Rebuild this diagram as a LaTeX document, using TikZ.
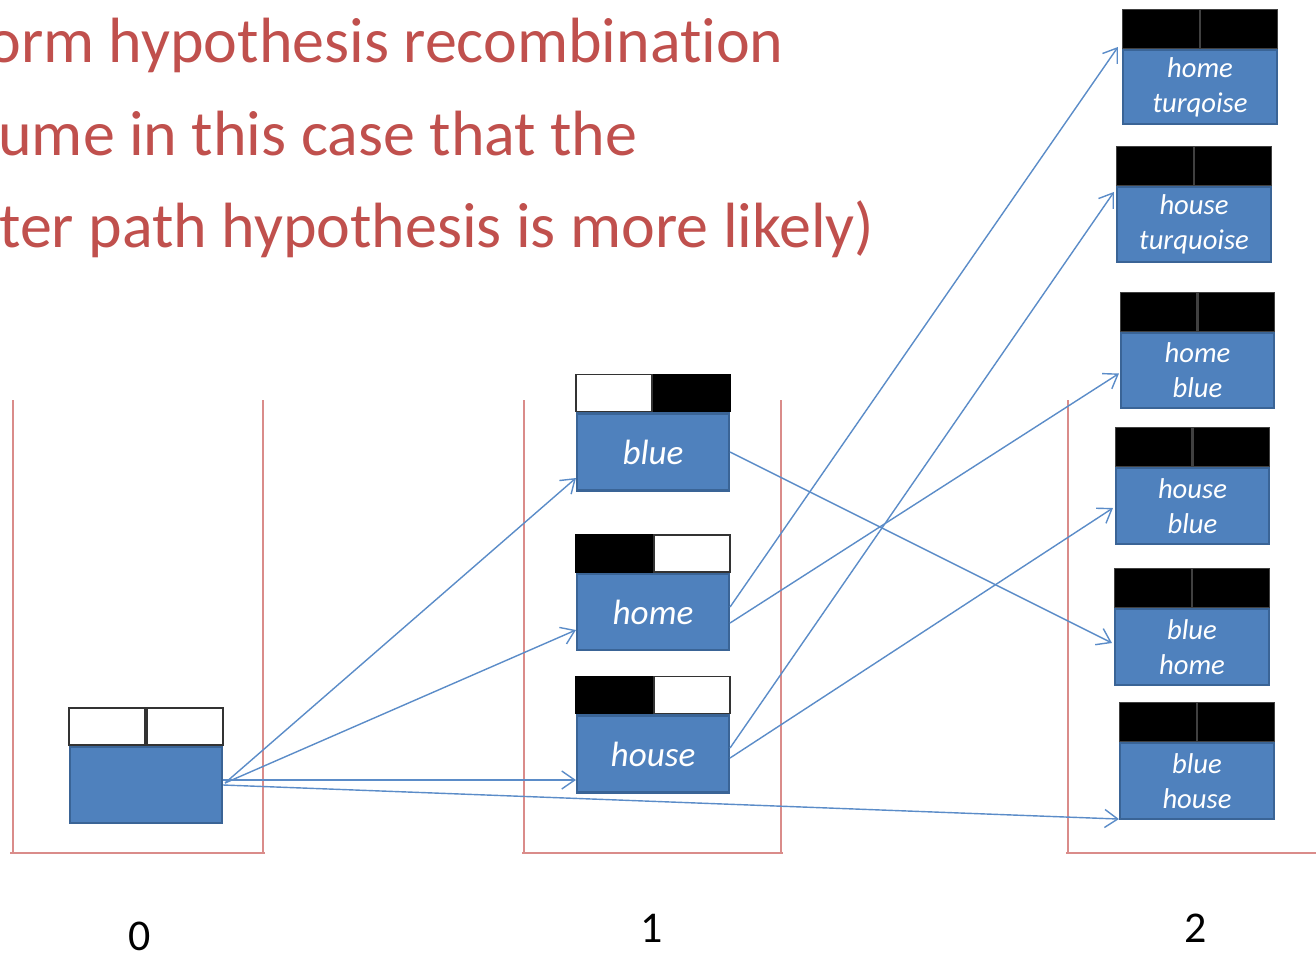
\documentclass[tikz,border=0pt]{standalone}
\usepackage{fontspec}
\setmainfont{Carlito}[Ligatures=NoCommon]
\usetikzlibrary{arrows.meta,calc}
\definecolor{boxblue}{HTML}{4F81BD}
\definecolor{boxedge}{HTML}{3A6496}
\definecolor{titlered}{HTML}{C0504D}
\definecolor{stackred}{HTML}{DA8C8A}
\definecolor{arrowblue}{HTML}{5B8CC8}
\tikzset{
  hyp/.style={draw=boxedge, fill=boxblue, line width=1.2pt, inner sep=0pt, text=white,
    font=\itshape\fontsize{20}{24}\selectfont},
  hyptwo/.style={hyp, align=center, minimum width=3.08cm, minimum height=1.5cm,
    font=\itshape\fontsize{16.3}{20}\selectfont},
  cellw/.style={draw=black!80, fill=white, line width=1pt, inner sep=0pt, minimum height=0.74cm, minimum width=1.52cm},
  cellb/.style={cellw, fill=black, draw=black},
  cellk/.style={draw=black!75, fill=black, line width=0.6pt, inner sep=0pt, minimum height=0.78cm, minimum width=1.54cm},
  titletext/.style={text=titlered, anchor=base west, inner sep=0pt, font=\fontsize{36.4}{43}\selectfont},
  stackline/.style={draw=stackred, line width=1.3pt},
  conn/.style={draw=arrowblue, line width=0.8pt, -{Straight Barb[length=2.6mm,width=3.6mm]}},
  steplabel/.style={inner sep=0pt, font=\fontsize{25}{30}\selectfont}
}
\begin{document}
\begin{tikzpicture}[x=0.02cm,y=-0.02cm]
\useasboundingbox (0,0) rectangle (1316,957);

% title
\node[titletext] (t1) at (-13,62) {orm hypothesis recombination};
\node[titletext] (t2) at (-2,155) {ume in this case that the};
\node[titletext] (t3) at (-1,247) {ter path hypothesis is more likely)};

% stacks
\draw[stackline] (13,400) -- (13,853);
\draw[stackline] (263,400) -- (263,853);
\draw[stackline] (10,853) -- (265,853);
\draw[stackline] (524,400) -- (524,853);
\draw[stackline] (781,400) -- (781,853);
\draw[stackline] (522,853) -- (783,853);
\draw[stackline] (1068,400) -- (1068,853);
\draw[stackline] (1066,853) -- (1316,853);

% stack 0
\node[hyp, minimum width=3.04cm, minimum height=1.52cm] (s0) at (146,785) {};
\node[cellw, anchor=south east] (s0l) at (s0.north) {};
\node[cellw, anchor=south west] (s0r) at (s0.north) {};

% stack 1
\node[hyp, minimum width=3.04cm, minimum height=1.54cm] (b1) at (653,452) {blue};
\node[cellw, anchor=south east] (b1l) at (b1.north) {};
\node[cellb, anchor=south west] (b1r) at (b1.north) {};

\node[hyp, minimum width=3.04cm, minimum height=1.52cm] (hm) at (653,612) {home};
\node[cellb, anchor=south east] (hml) at (hm.north) {};
\node[cellw, anchor=south west] (hmr) at (hm.north) {};

\node[hyp, minimum width=3.04cm, minimum height=1.54cm] (hs) at (653,754) {house};
\node[cellb, anchor=south east] (hsl) at (hs.north) {};
\node[cellw, anchor=south west] (hsr) at (hs.north) {};

% stack 2
\node[hyptwo, minimum height=1.48cm] (ht) at (1200,87) {home\\turqoise};
\node[cellk, anchor=south east] (htl) at (ht.north) {};
\node[cellk, anchor=south west] (htr) at (ht.north) {};

\node[hyptwo] (hq) at (1194,224.5) {house\\turquoise};
\node[cellk, anchor=south east] (hql) at (hq.north) {};
\node[cellk, anchor=south west] (hqr) at (hq.north) {};

\node[hyptwo, minimum width=3.06cm] (hb) at (1197.5,370.5) {home\\blue};
\node[cellk, minimum width=1.53cm, anchor=south east] (hbl) at (hb.north) {};
\node[cellk, minimum width=1.53cm, anchor=south west] (hbr) at (hb.north) {};

\node[hyptwo, minimum width=3.06cm, minimum height=1.52cm] (sb) at (1192.5,506) {house\\blue};
\node[cellk, minimum width=1.53cm, anchor=south east] (sbl) at (sb.north) {};
\node[cellk, minimum width=1.53cm, anchor=south west] (sbr) at (sb.north) {};

\node[hyptwo, minimum height=1.52cm] (bm) at (1192,647) {blue\\home};
\node[cellk, anchor=south east] (bml) at (bm.north) {};
\node[cellk, anchor=south west] (bmr) at (bm.north) {};

\node[hyptwo, minimum height=1.52cm] (bh) at (1197,781) {blue\\house};
\node[cellk, anchor=south east] (bhl) at (bh.north) {};
\node[cellk, anchor=south west] (bhr) at (bh.north) {};

% step labels
\node[steplabel] (l0) at (140,936) {0};
\node[steplabel] (l1) at (652,928) {1};
\node[steplabel] (l2) at (1196,928) {2};

% connectors
\draw[conn] ($(s0.east)+(2,-2)$) -- ($(b1.west)+(0,26)$);
\draw[conn] ($(s0.east)+(2,-2)$) -- ($(hm.west)+(0,18)$);
\draw[conn] ($(s0.east)+(0,-5)$) -- ($(hs.west)+(0,26)$);
\draw[conn] ($(s0.east)+(0,0)$) -- ($(bh.south west)+(0,-1)$);

\draw[conn] (b1.east) -- ($(bm.west)+(-2,-4)$);
\draw[conn] ($(hm.east)+(0,-5)$) -- ($(ht.north west)+(-4,-2)$);
\draw[conn] ($(hm.east)+(0,11)$) -- ($(hb.west)+(-1,3)$);
\draw[conn] ($(hs.east)+(0,-6)$) -- ($(hq.north west)+(-2,6)$);
\draw[conn] ($(hs.east)+(0,4)$) -- ($(sb.west)+(-2,2)$);
\end{tikzpicture}
\end{document}
